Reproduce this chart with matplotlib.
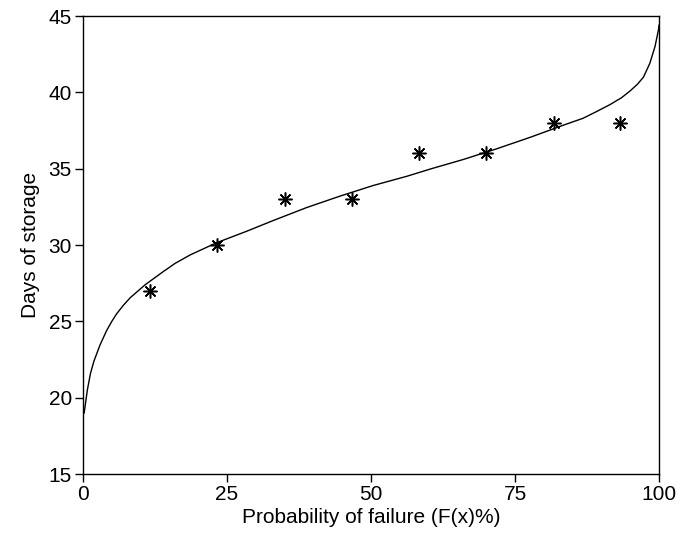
import matplotlib
matplotlib.use("Agg")
import matplotlib.pyplot as plt

plt.rcParams['font.family'] = ['Liberation Sans', 'DejaVu Sans']

# observed failures (median-rank position vs days)
obs_prob = [11.7, 23.3, 35.0, 46.7, 58.3, 70.0, 81.7, 93.3]
obs_days = [27, 30, 33, 33, 36, 36, 38, 38]

# fitted curve
fit_prob = [0.2, 0.75, 1.3, 1.9, 2.95, 4.1, 5.0, 5.85, 7.0, 8.2, 10.8, 13.9, 16.0, 18.6,
            23.2, 28.4, 33.0, 38.8, 44.6, 50.4, 56.2, 60.5, 66.0, 71.8, 77.6, 83.4,
            86.8, 89.2, 91.5, 93.5, 95.0, 96.3, 97.3, 98.4, 99.3, 99.9, 100.0]
fit_days = [19.0, 20.5, 21.6, 22.4, 23.45, 24.4, 25.0, 25.5, 26.05, 26.55, 27.4, 28.25,
            28.8, 29.35, 30.15, 30.9, 31.6, 32.45, 33.2, 33.9, 34.5, 35.0, 35.6, 36.3,
            37.05, 37.85, 38.3, 38.75, 39.2, 39.65, 40.1, 40.55, 41.0, 41.9, 43.0, 44.1, 44.4]

x_ticks = [0, 25, 50, 75, 100]
y_ticks = [15, 20, 25, 30, 35, 40, 45]

fig = plt.figure(figsize=(6.93, 5.37), dpi=100)
ax = fig.add_axes([0.1198, 0.1173, 0.8312, 0.8529])

ax.plot(fit_prob, fit_days, '-', color='black', lw=1.0)
ax.plot(obs_prob, obs_days, linestyle='none', marker=(8, 2, 0), markersize=10,
        markeredgewidth=1.1, color='black')

ax.set_xlim(0, 100)
ax.set_ylim(15, 45)
ax.set_xticks(x_ticks)
ax.set_yticks(y_ticks)
ax.tick_params(direction='out', length=6, width=1, labelsize=15, pad=2)
for s in ax.spines.values():
    s.set_linewidth(1.0)

ax.set_xlabel('Probability of failure (F(x)%)', fontsize=15, labelpad=3)
ax.set_ylabel('Days of storage', fontsize=15, labelpad=6)

fig.savefig('out.png', dpi=100)
